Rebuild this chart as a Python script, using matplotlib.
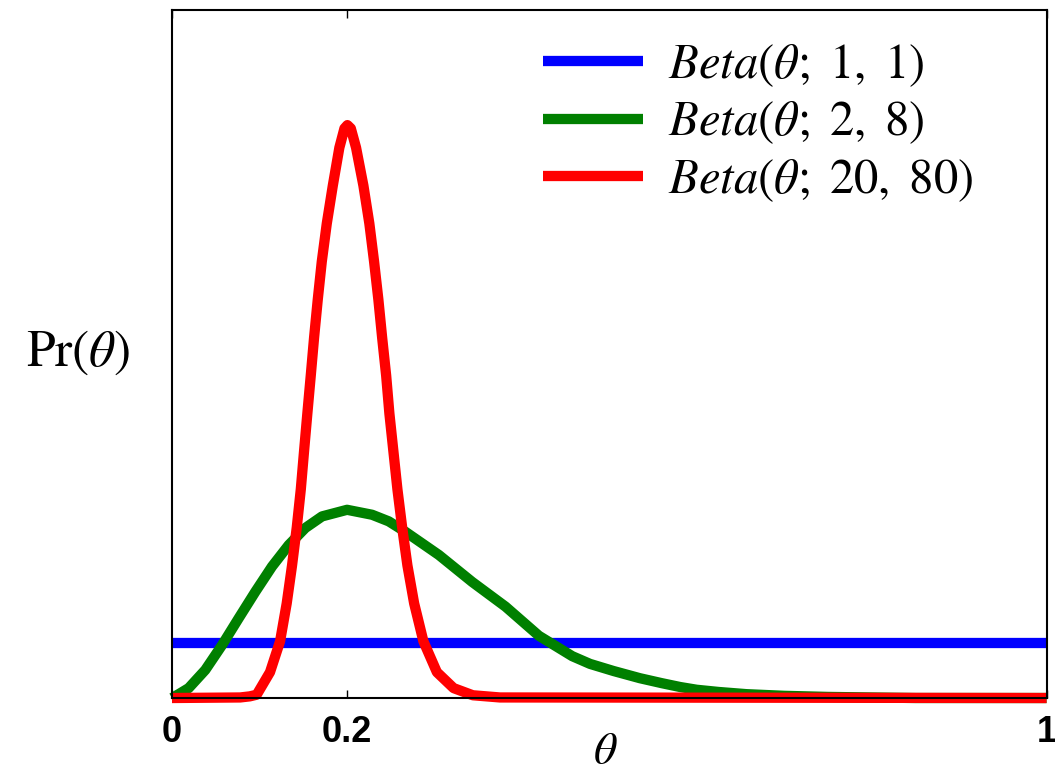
import matplotlib
matplotlib.use("Agg")
import matplotlib.pyplot as plt

plt.rcParams['mathtext.fontset'] = 'stix'
plt.rcParams['font.family'] = ['STIXGeneral', 'DejaVu Serif']

# Curves (theta, density)
uniform_x = [0.0, 1.0]
uniform_y = [1.0, 1.0]

green_x = [0.0, 0.0077, 0.0191, 0.0381, 0.0572, 0.0763, 0.0953, 0.1144, 0.1335, 0.1525,
           0.1716, 0.2002, 0.2288, 0.2479, 0.2669, 0.3051, 0.3432, 0.3814, 0.4196, 0.4577,
           0.478, 0.505, 0.535, 0.56, 0.581, 0.60, 0.625, 0.657, 0.70, 0.75, 0.85, 1.0]
green_y = [0.0, 0.07, 0.18, 0.51, 0.96, 1.45, 1.93, 2.39, 2.78, 3.09,
           3.30, 3.42, 3.33, 3.21, 3.02, 2.60, 2.11, 1.66, 1.13, 0.76,
           0.62, 0.49, 0.36, 0.27, 0.20, 0.15, 0.11, 0.07, 0.04, 0.02, 0.0, 0.0]

red_x = [0.0, 0.078, 0.089, 0.0969, 0.1121, 0.1236, 0.1312, 0.1373, 0.1427, 0.1473,
         0.1510, 0.1548, 0.1587, 0.1625, 0.1667, 0.1713, 0.1770, 0.1839, 0.1914, 0.1972,
         0.2006, 0.2045, 0.2105, 0.2189, 0.2257, 0.2311, 0.2360, 0.2403, 0.2449, 0.2486,
         0.2532, 0.2578, 0.2632, 0.2692, 0.2769, 0.2875, 0.3029, 0.322, 0.344, 0.375, 1.0]
red_y = [0.0, 0.01, 0.03, 0.06, 0.47, 1.03, 1.72, 2.41, 3.10, 3.79,
         4.48, 5.17, 5.86, 6.55, 7.24, 7.93, 8.62, 9.31, 10.0, 10.35,
         10.41, 10.35, 10.0, 9.31, 8.62, 7.93, 7.24, 6.55, 5.86, 5.17,
         4.48, 3.79, 3.10, 2.41, 1.72, 1.03, 0.47, 0.18, 0.05, 0.01, 0.0]

labels = [r'$Beta(\theta;\ 1,\ 1)$', r'$Beta(\theta;\ 2,\ 8)$', r'$Beta(\theta;\ 20,\ 80)$']
xticks = [0, 0.2, 1]
xtick_labels = ['0', '0.2', '1']

fig = plt.figure(figsize=(10.55, 7.76), dpi=100)
ax = fig.add_axes([0.163, 0.1005, 0.829, 0.8865])

lw = 7.4
ax.plot(uniform_x, uniform_y, color='#0000ff', lw=lw, label=labels[0],
        solid_capstyle='butt', clip_on=False)
ax.plot(green_x, green_y, color='#008000', lw=lw, label=labels[1],
        solid_capstyle='butt', solid_joinstyle='round', clip_on=False)
ax.plot(red_x, red_y, color='#ff0000', lw=lw, label=labels[2],
        solid_capstyle='butt', solid_joinstyle='round', clip_on=False)

ax.set_xlim(0, 1)
ax.set_ylim(0, 12.5)
ax.set_xticks(xticks)
ax.set_xticklabels(xtick_labels, fontfamily='Liberation Sans', fontweight='bold', fontsize=26)
ax.set_yticks([])
ax.tick_params(axis='x', direction='in', length=6, width=1, top=True, pad=12)
for s in ax.spines.values():
    s.set_linewidth(1.5)

ax.set_xlabel(r'$\theta$', fontsize=33, va='center')
ax.xaxis.set_label_coords(0.495, -0.08)
fig.text(0.074, 1 - 353 / 776, r'$\mathrm{Pr}(\theta)$', fontsize=37,
         ha='center', va='center')

leg = ax.legend(loc='upper left', bbox_to_anchor=(543 / 1055, 1 - 42 / 776),
                bbox_transform=fig.transFigure, frameon=False, fontsize=35,
                handlelength=2.06, handletextpad=0.52, labelspacing=0.23,
                borderpad=0, borderaxespad=0)

fig.savefig('out.png', dpi=100)
